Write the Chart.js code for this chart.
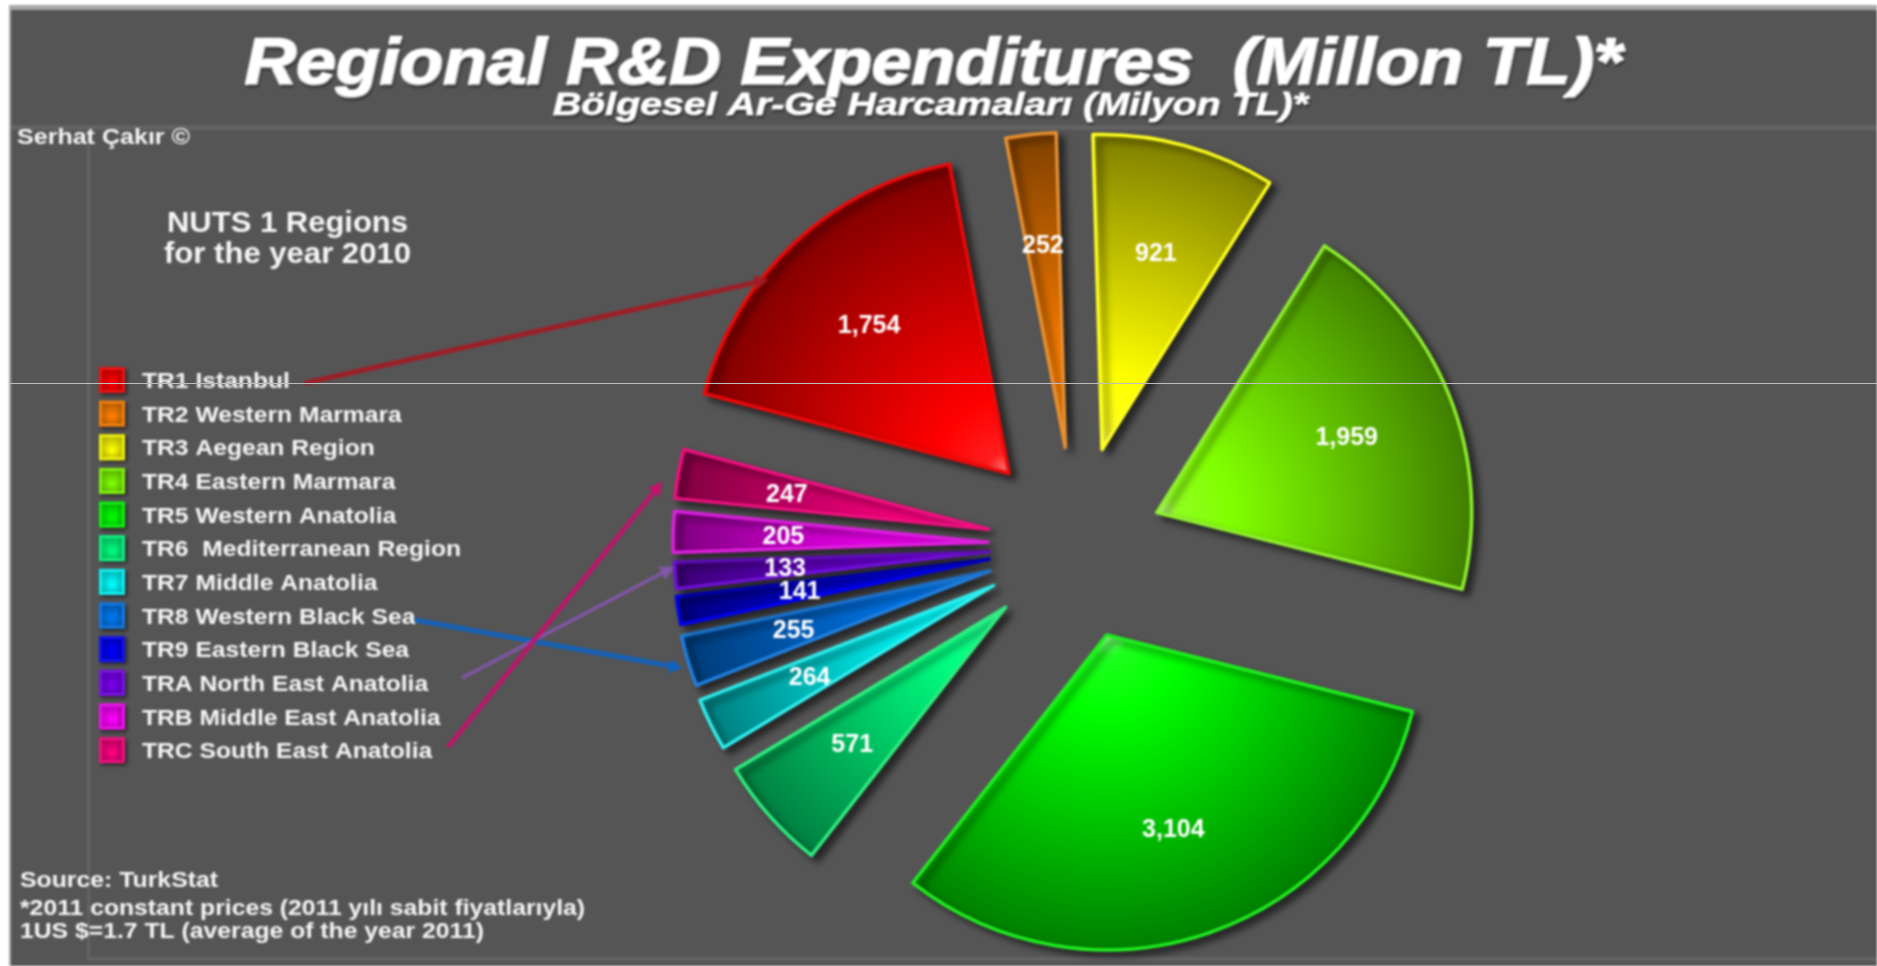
<!DOCTYPE html>
<html><head><meta charset="utf-8">
<style>html,body{margin:0;padding:0;background:#fff;overflow:hidden}canvas{display:block;filter:blur(0.8px)}#w{width:1877px;height:966px;position:relative}#h{position:absolute;left:9px;right:0;top:383px;height:1px;background:#bdbdbd}</style>
<script src="https://cdn.jsdelivr.net/npm/chart.js@4/dist/chart.umd.min.js"></script>
</head><body><div id="w"><canvas id="c" width="1877" height="966"></canvas><div id="h"></div></div>
<script>
const categories=["TR1 Istanbul","TR2 Western Marmara","TR3 Aegean Region","TR4 Eastern Marmara","TR5 Western Anatolia","TR6  Mediterranean Region","TR7 Middle Anatolia","TR8 Western Black Sea","TR9 Eastern Black Sea","TRA North East Anatolia","TRB Middle East Anatolia","TRC South East Anatolia"];
const values=[1754,252,921,1959,3104,571,264,255,141,133,205,247];
const baseColors=["#ff0000","#ff8000","#ffff00","#80ff00","#00ff00","#00ff80","#00ffff","#0078f0","#0000ff","#7800f0","#ff00ff","#ff0080"];
const borderColors=["#f00808","#e89030","#ffff20","#90f030","#20f020","#30ee80","#30f0f0","#2080e0","#0000f0","#7010d8","#e020e0","#f01080"];
const explodeBy=[98,98,99,87,95,94,92,90,88,87,88,89];
const titleText="Regional R&D Expenditures  (Millon TL)*";
const subtitleText="Bölgesel Ar-Ge Harcamaları (Milyon TL)*";
const creditText="Serhat Çakır ©";
const regionLines=["NUTS 1 Regions","for the year 2010"];
const noteLines=["Source: TurkStat","*2011 constant prices (2011 yılı sabit fiyatlarıyla)","1US $=1.7 TL (average of the year 2011)"];
const FONT='"Liberation Sans",Arial,sans-serif';
const RADIUS=315;
function shade(hex,f){const n=parseInt(hex.slice(1),16);return `rgb(${(n>>16&255)*f|0},${(n>>8&255)*f|0},${(n&255)*f|0})`}
function mix(hex,t){const n=parseInt(hex.slice(1),16);const m=c=>c+(255-c)*t|0;return `rgb(${m(n>>16&255)},${m(n>>8&255)},${m(n&255)})`}
function fit(ctx,t,x,y,w,font,stroke){ctx.save();ctx.font=font;ctx.textBaseline='alphabetic';ctx.textAlign='left';const m=ctx.measureText(t).width;const s=w?w/m:1;ctx.translate(x,y);ctx.scale(s,1);if(stroke){ctx.strokeStyle=ctx.fillStyle;ctx.lineWidth=stroke;ctx.lineJoin='round';ctx.strokeText(t,0,0)}ctx.fillText(t,0,0);ctx.restore()}
function arrow(ctx,x1,y1,x2,y2,col,lw,h){ctx.save();ctx.strokeStyle=col;ctx.fillStyle=col;ctx.lineWidth=lw;ctx.beginPath();ctx.moveTo(x1,y1);ctx.lineTo(x2,y2);ctx.stroke();const a=Math.atan2(y2-y1,x2-x1);ctx.translate(x2,y2);ctx.rotate(a);ctx.beginPath();ctx.moveTo(h*.7,0);ctx.lineTo(-h*.7,-h*.75);ctx.lineTo(-h*.7,h*.75);ctx.closePath();ctx.fill();ctx.restore()}
const explodePlugin={id:'explode',afterDatasetsUpdate(chart){
  const c=chart.ctx;
  chart.getDatasetMeta(0).data.forEach((arc,i)=>{
    const mid=(arc.startAngle+arc.endAngle)/2;
    arc.x+=Math.cos(mid)*explodeBy[i];arc.y+=Math.sin(mid)*explodeBy[i];
    const g=c.createRadialGradient(arc.x,arc.y,0,arc.x,arc.y,RADIUS);
    const b=baseColors[i];
    g.addColorStop(0,mix(b,.55));g.addColorStop(.07,mix(b,.12));g.addColorStop(.24,b);g.addColorStop(1,shade(b,.5));
    arc.options=Object.assign({},arc.options,{backgroundColor:g});
  });
},
beforeDraw(chart){const c=chart.ctx;c.save();c.fillStyle='#fff';c.fillRect(0,0,1877,966);c.fillStyle='#a8a8a8';c.fillRect(9,5,1868,961);c.fillStyle='#555';c.fillRect(11,10,1866,956);
  c.fillStyle='#636363';c.fillRect(11,125,1866,5);c.fillRect(87,125,3,835);c.fillRect(87,957,1790,4);c.restore();},
beforeDatasetsDraw(chart){const c=chart.ctx;c.save();c.shadowColor='rgba(0,0,0,.55)';c.shadowBlur=7;c.shadowOffsetX=6;c.shadowOffsetY=5;},
afterDatasetsDraw(chart){const c=chart.ctx;c.restore();c.save();
  c.fillStyle='#fff';c.textAlign='center';c.textBaseline='middle';c.font='bold 25px '+FONT;
  chart.getDatasetMeta(0).data.forEach((arc,i)=>{const mid=(arc.startAngle+arc.endAngle)/2;const r=RADIUS*(i===8?.61:.65);
    c.fillText(values[i].toLocaleString('en-US'),arc.x+Math.cos(mid)*r,arc.y+Math.sin(mid)*r+2);});
  c.fillStyle='#fff';c.shadowColor='rgba(0,0,0,.4)';c.shadowBlur=2;c.shadowOffsetX=1;c.shadowOffsetY=2;
  fit(c,titleText,245,84,1377,'italic bold 65px '+FONT,2.5);
  fit(c,subtitleText,553,115,755,'italic bold 32px '+FONT,1);
  c.shadowColor='transparent';c.fillStyle='#f6f6f6';
  fit(c,creditText,17,144,173,'bold 22px '+FONT);
  fit(c,regionLines[0],167,232,241,'bold 30px '+FONT);
  fit(c,regionLines[1],164,263,247,'bold 30px '+FONT);
  const noteW=[198,565,464],noteY=[887,915,938];
  noteLines.forEach((t,i)=>fit(c,t,20,noteY[i],noteW[i],'bold 22px '+FONT));
  const legendScale=1.12;
  categories.forEach((t,i)=>{const y=380+i*33.65;const b=baseColors[i];
    c.save();c.shadowColor='rgba(0,0,0,.6)';c.shadowBlur=4;c.shadowOffsetX=2;c.shadowOffsetY=2;
    const g=c.createRadialGradient(112,y+3,1,112,y,14);g.addColorStop(0,b);g.addColorStop(1,shade(b,.65));
    c.fillStyle=g;c.fillRect(99,y-13,26,26);c.restore();
    c.strokeStyle=mix(b,.1);c.globalAlpha=.8;c.lineWidth=3;c.strokeRect(100.5,y-11.5,23,23);c.globalAlpha=1;
    c.fillStyle='#f6f6f6';
    c.font='bold 22px '+FONT;
    fit(c,t,142,y+8,c.measureText(t).width*legendScale,'bold 22px '+FONT);
  });
  arrow(c,305,383,762,281,'rgba(165,25,35,.9)',5,10);
  arrow(c,415,620,676,667,'rgba(10,100,200,.85)',5,10);
  arrow(c,462,678,668,570,'rgba(135,85,175,.9)',3.5,10);
  arrow(c,448,747,658,487,'rgba(200,15,110,.9)',4.5,10);
  c.restore();}
};
new Chart(document.getElementById('c'),{
  type:'pie',
  data:{labels:categories,datasets:[{data:values,backgroundColor:baseColors,borderColor:borderColors,borderWidth:3.5,borderJoinStyle:'round',hoverOffset:0}]},
  options:{responsive:false,animation:false,rotation:-75.3,radius:RADIUS,
    layout:{padding:{left:275,top:124,right:0,bottom:0}},
    events:[],
    plugins:{legend:{display:false},title:{display:false},tooltip:{enabled:false}}},
  plugins:[explodePlugin]
});
</script></body></html>
